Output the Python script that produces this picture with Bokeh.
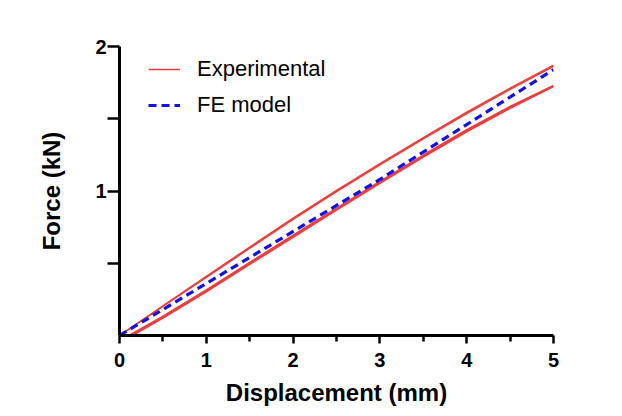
from bokeh.plotting import figure
from bokeh.models import Range1d, FixedTicker, Legend, LegendItem
from bokeh.embed import file_html
from bokeh.resources import INLINE

# --- data ---
x_upper = [0, 0.5, 1, 1.5, 2, 2.5, 3, 3.5, 4, 4.5, 5]
exp_upper_a = [0, 0.205, 0.41, 0.612, 0.812, 1.005, 1.19, 1.37, 1.545, 1.712, 1.87]
exp_upper_b = [0, 0.201, 0.403, 0.604, 0.803, 0.996, 1.181, 1.361, 1.536, 1.703, 1.862]

x_lower_a = [0.15, 0.5, 1, 1.5, 2, 2.5, 3, 3.5, 4, 4.5, 5]
exp_lower_a = [0, 0.12, 0.302, 0.492, 0.68, 0.868, 1.053, 1.235, 1.41, 1.572, 1.722]
x_lower_b = [0.13, 0.5, 1, 1.5, 2, 2.5, 3, 3.5, 4, 4.5, 5]
exp_lower_b = [0, 0.127, 0.309, 0.499, 0.687, 0.875, 1.06, 1.242, 1.417, 1.579, 1.726]
x_lower_c = [0.11, 0.5, 1, 1.5, 2, 2.5, 3, 3.5, 4, 4.5, 5]
exp_lower_c = [0, 0.134, 0.316, 0.506, 0.694, 0.882, 1.067, 1.249, 1.424, 1.585, 1.73]

x_fe = [0, 0.5, 1, 1.5, 2, 2.5, 3, 3.5, 4, 4.5, 5]
fe_model = [0, 0.18, 0.36, 0.54, 0.72, 0.90, 1.08, 1.27, 1.46, 1.65, 1.84]

x_ticks = [0, 1, 2, 3, 4, 5]
x_minor = [0.5, 1.5, 2.5, 3.5, 4.5]
y_ticks = [0.5, 1, 1.5, 2]

RED = "#ef3b3b"
BLUE = "#1010f0"
FONT = "Liberation Sans"

p = figure(width=614, height=408, output_backend="svg", toolbar_location=None,
           x_range=Range1d(0, 5), y_range=Range1d(0, 2),
           min_border_left=119, min_border_right=61, min_border_top=46, min_border_bottom=72)
p.outline_line_color = None
p.xgrid.visible = False
p.ygrid.visible = False
p.background_fill_color = "white"
p.border_fill_color = "white"

r_exp = None
for xs, ys in [(x_upper, exp_upper_a), (x_upper, exp_upper_b), (x_lower_a, exp_lower_a),
               (x_lower_b, exp_lower_b), (x_lower_c, exp_lower_c)]:
    r = p.line(xs, ys, line_color=RED, line_width=1.5)
    if r_exp is None:
        r_exp = r
r_fe = p.line(x_fe, fe_model, line_color=BLUE, line_width=3.2, line_dash="8 5")

# axes
for ax in (p.xaxis[0], p.yaxis[0]):
    ax.axis_line_width = 3
    ax.axis_line_color = "black"
    ax.major_tick_line_width = 2.5
    ax.minor_tick_line_width = 2.5
    ax.major_tick_in = 0
    ax.minor_tick_in = 0
    ax.major_label_text_font = FONT
    ax.major_label_text_font_style = "bold"
    ax.major_label_text_font_size = "20px"
    ax.major_label_text_color = "black"
    ax.axis_label_text_font = FONT
    ax.axis_label_text_font_style = "bold"
    ax.axis_label_text_font_size = "24px"
    ax.axis_label_text_color = "black"

p.xaxis.ticker = FixedTicker(ticks=x_ticks, minor_ticks=x_minor)
p.xaxis.major_tick_out = 8
p.xaxis.minor_tick_out = 6
p.xaxis.major_label_standoff = 9
p.xaxis.axis_label = "Displacement (mm)"
p.xaxis.axis_label_standoff = 9

p.yaxis.ticker = FixedTicker(ticks=y_ticks, minor_ticks=[])
p.yaxis.major_label_overrides = {0.5: "", 1.5: ""}
p.yaxis.major_tick_out = 12
p.yaxis.minor_tick_out = 0
p.yaxis.major_label_standoff = 1
p.yaxis.axis_label = "Force (kN)"
p.yaxis.axis_label_standoff = 27

legend = Legend(items=[LegendItem(label="Experimental", renderers=[r_exp]),
                       LegendItem(label="FE model", renderers=[r_fe])],
                location=(29, 215))
legend.border_line_color = None
legend.background_fill_alpha = 0
legend.padding = 0
legend.margin = 0
legend.spacing = 6
legend.glyph_width = 32
legend.glyph_height = 30
legend.label_height = 30
legend.label_standoff = 17
legend.label_text_font = FONT
legend.label_text_font_size = "22px"
legend.label_text_color = "black"
p.add_layout(legend)

open("out.html", "w").write(file_html(p, INLINE))
